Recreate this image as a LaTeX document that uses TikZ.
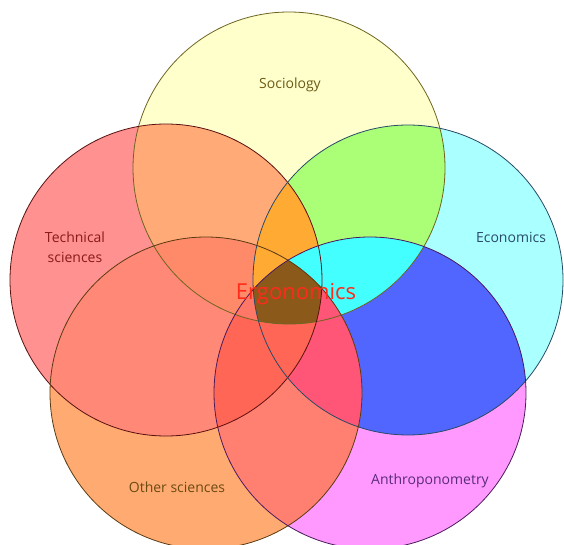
\documentclass[tikz,border=0pt]{standalone}
\usepackage{fontspec}
\setmainfont{Open Sans}
\definecolor{cS}{HTML}{FFFFCC}
\definecolor{cT}{HTML}{FF9191}
\definecolor{cE}{HTML}{AAFFFF}
\definecolor{cO}{HTML}{FFAA70}
\definecolor{cA}{HTML}{FF99FF}
\definecolor{cST}{HTML}{FFAA77}
\definecolor{cSE}{HTML}{AAFF77}
\definecolor{cSO}{HTML}{FF9966}
\definecolor{cSA}{HTML}{FFAACC}
\definecolor{cTE}{HTML}{FF9999}
\definecolor{cTO}{HTML}{FF8877}
\definecolor{cTA}{HTML}{FF7788}
\definecolor{cEO}{HTML}{FF99AA}
\definecolor{cEA}{HTML}{5066FF}
\definecolor{cOA}{HTML}{FF8070}
\definecolor{cSTE}{HTML}{FFAA33}
\definecolor{cSTO}{HTML}{FF8A6A}
\definecolor{cSTA}{HTML}{FF9966}
\definecolor{cSEO}{HTML}{FF7799}
\definecolor{cSEA}{HTML}{44FFFF}
\definecolor{cSOA}{HTML}{FF7766}
\definecolor{cTEO}{HTML}{FF7766}
\definecolor{cTEA}{HTML}{FF66AA}
\definecolor{cTOA}{HTML}{FF6655}
\definecolor{cEOA}{HTML}{FF5577}
\definecolor{cSTEO}{HTML}{FFAA33}
\definecolor{cSTEA}{HTML}{44FFFF}
\definecolor{cSTOA}{HTML}{FF7766}
\definecolor{cSEOA}{HTML}{FF5577}
\definecolor{cTEOA}{HTML}{FF6655}
\definecolor{cAll}{HTML}{8B5A1B}
\definecolor{lS}{HTML}{6E6420}
\definecolor{lT}{HTML}{5A1010}
\definecolor{lE}{HTML}{2A4A66}
\definecolor{lO}{HTML}{5A3A10}
\definecolor{lA}{HTML}{4A1A5A}
\definecolor{tS}{HTML}{6B5A14}
\definecolor{tT}{HTML}{8B1A1A}
\definecolor{tE}{HTML}{2A4A6A}
\definecolor{tO}{HTML}{6B4A14}
\definecolor{tA}{HTML}{5A2A7A}
\definecolor{tErg}{HTML}{FF2A1A}
\def\circS{(289,168) circle[radius=156]}
\def\circT{(166,280) circle[radius=156]}
\def\circE{(408,280) circle[radius=155]}
\def\circO{(206,393) circle[radius=156]}
\def\circA{(370,393) circle[radius=156]}
\newcommand\paintreg[2]{\begin{scope}#1\fill[#2] (0,0) rectangle (564,545);\end{scope}}
\begin{document}
\begin{tikzpicture}[x=1pt,y=-1pt,
  lbl/.style={font=\fontsize{14}{20}\selectfont, align=center},
  ring/.style={line width=0.8pt}]
\useasboundingbox (0,0) rectangle (564,545);
% single sets
\fill[cS] \circS; \fill[cT] \circT; \fill[cE] \circE; \fill[cO] \circO; \fill[cA] \circA;
% pairs
\paintreg{\clip\circS;\clip\circT;}{cST}
\paintreg{\clip\circS;\clip\circE;}{cSE}
\paintreg{\clip\circS;\clip\circO;}{cSO}
\paintreg{\clip\circS;\clip\circA;}{cSA}
\paintreg{\clip\circT;\clip\circE;}{cTE}
\paintreg{\clip\circT;\clip\circO;}{cTO}
\paintreg{\clip\circT;\clip\circA;}{cTA}
\paintreg{\clip\circE;\clip\circO;}{cEO}
\paintreg{\clip\circE;\clip\circA;}{cEA}
\paintreg{\clip\circO;\clip\circA;}{cOA}
% triples
\paintreg{\clip\circS;\clip\circT;\clip\circE;}{cSTE}
\paintreg{\clip\circS;\clip\circT;\clip\circO;}{cSTO}
\paintreg{\clip\circS;\clip\circT;\clip\circA;}{cSTA}
\paintreg{\clip\circS;\clip\circE;\clip\circO;}{cSEO}
\paintreg{\clip\circS;\clip\circE;\clip\circA;}{cSEA}
\paintreg{\clip\circS;\clip\circO;\clip\circA;}{cSOA}
\paintreg{\clip\circT;\clip\circE;\clip\circO;}{cTEO}
\paintreg{\clip\circT;\clip\circE;\clip\circA;}{cTEA}
\paintreg{\clip\circT;\clip\circO;\clip\circA;}{cTOA}
\paintreg{\clip\circE;\clip\circO;\clip\circA;}{cEOA}
% quadruples
\paintreg{\clip\circS;\clip\circT;\clip\circE;\clip\circO;}{cSTEO}
\paintreg{\clip\circS;\clip\circT;\clip\circE;\clip\circA;}{cSTEA}
\paintreg{\clip\circS;\clip\circT;\clip\circO;\clip\circA;}{cSTOA}
\paintreg{\clip\circS;\clip\circE;\clip\circO;\clip\circA;}{cSEOA}
\paintreg{\clip\circT;\clip\circE;\clip\circO;\clip\circA;}{cTEOA}
% all five
\paintreg{\clip\circS;\clip\circT;\clip\circE;\clip\circO;\clip\circA;}{cAll}
% outlines
\draw[ring,lS] \circS;
\draw[ring,lT] \circT;
\draw[ring,lE] \circE;
\draw[ring,lO] \circO;
\draw[ring,lA] \circA;
% labels
\node[lbl,text=tS] (soc) at (290,85) {Sociology};
\node[lbl,text=tT] (tech) at (75,247) {Technical\\sciences};
\node[lbl,text=tE] (eco) at (511,237) {Economics};
\node[lbl,text=tO] (oth) at (177,487) {Other sciences};
\node[lbl,text=tA] (ant) at (430,481) {Anthroponometry};
\node[font=\fontsize{22}{26}\selectfont,text=tErg] (erg) at (296,294) {Ergonomics};
\end{tikzpicture}
\end{document}
